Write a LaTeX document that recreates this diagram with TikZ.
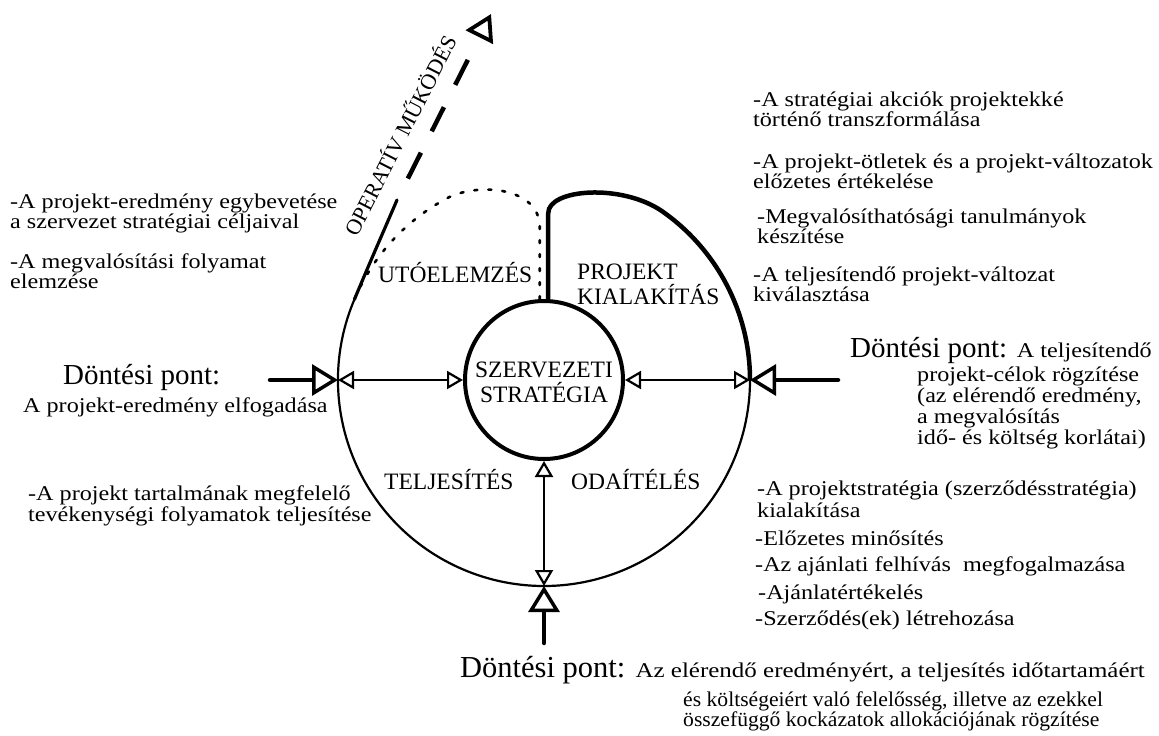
\documentclass[tikz,border=0pt]{standalone}
\usepackage{fontspec}
\setmainfont{Liberation Serif}
\newfontfamily\bodyf[FakeStretch=1.15]{Liberation Serif}
\newfontfamily\bodyw[FakeStretch=1.19]{Liberation Serif}
\newfontfamily\bodyn[FakeStretch=1.03]{Liberation Serif}
\newcommand\bfnt{\bodyf\fontsize{21}{22}\selectfont}
\newcommand\bwfnt{\bodyw\fontsize{21}{22}\selectfont}
\usetikzlibrary{arrows.meta,calc}
\tikzset{
  body/.style={font=\bfnt, inner sep=0pt, anchor=base west},
  bodyb/.style={font=\bodyn\fontsize{21}{22}\selectfont, inner sep=0pt, anchor=base west},
  big/.style={font=\fontsize{29}{30}\selectfont, inner sep=0pt, anchor=base west},
  lab/.style={font=\fontsize{23.5}{25}\selectfont, inner sep=0pt, anchor=base west},
  bigtip/.tip={Triangle[open,length=26pt,width=31pt,line width=3.5pt]},
  smalltip/.tip={Triangle[open,length=16pt,width=18pt,line width=2.2pt]},
  feed/.style={line width=4.5pt,line cap=round,-bigtip},
  link/.style={line width=2.2pt,smalltip-smalltip},
  thinarc/.style={line width=2.2pt},
  thickarc/.style={line width=4.5pt,line join=round},
}
\begin{document}
\begin{tikzpicture}[x=1pt,y=1pt]
\useasboundingbox (0,0) rectangle (1159,-736);
\fill[white] (0,0) rectangle (1159,-736);

\coordinate (C) at (544,-380);
\node[circle, draw, line width=4pt, minimum size=158pt, inner sep=0pt] (S) at (C) {};
\coordinate (OL) at ([shift={(180:206pt)}]C);
\coordinate (OR) at ([shift={(0:206pt)}]C);
\coordinate (OB) at ([shift={(270:206pt)}]C);
\coordinate (O1) at ([shift={(157:206pt)}]C);
\coordinate (O2) at (397,-200);
\coordinate (O3) at (491,-14);
\coordinate (LS) at (270,-380);
\coordinate (RS) at (838,-380);
\coordinate (BS) at (544,-643);

% outer circle (thin part)
\draw[thinarc] (O1) arc[start angle=157, end angle=360, radius=206pt];
% thick project shaping boundary
\draw[thickarc] (S.87) -- ++(0,86) .. controls +(0,24) and (621,-183) .. ([shift={(55:206pt)}]C)
  arc[start angle=55, end angle=0, radius=206pt];
% dotted post-evaluation boundary
\draw[line width=2.6pt, line cap=round, dash pattern=on 3pt off 11pt]
  (S.93) -- ++(0,72) .. controls +(0,40) and (478,-182) .. ([shift={(118:206pt)}]C)
  arc[start angle=118, end angle=157, radius=206pt];
% operative operation
\draw[line width=3.2pt, line cap=round] (O1) .. controls (370,-262) and (385,-228) .. (O2);
\draw[line width=4.5pt, dash pattern=on 0pt off 24pt on 29pt off 24pt on 27pt off 25pt on 28pt off 60pt,
  -{Triangle[open,length=26pt,width=30pt,line width=3.8pt]}] (O2) -- (O3);
\node[font=\fontsize{22}{22}\selectfont, rotate=63, inner sep=0pt] (op) at (399,-135) {OPERATÍV MŰKÖDÉS};

% arrows
\draw[feed] (LS) -- (OL);
\draw[link] (OL) -- (S.west);
\draw[feed] (RS) -- (OR);
\draw[link] (S.east) -- (OR);
\draw[feed] (BS) -- (OB);
\draw[link] (S.south) -- (OB);

% labels
\node[lab, anchor=base] (sz1) at (544,-377) {SZERVEZETI};
\node[lab, anchor=base] (sz2) at (544,-402) {STRATÉGIA};
\node[lab] (ut) at (378,-282) {UTÓELEMZÉS};
\node[lab] (pr1) at (577,-279) {PROJEKT};
\node[lab] (pr2) at (577,-304) {KIALAKÍTÁS};
\node[lab] (te) at (384,-489) {TELJESÍTÉS};
\node[lab] (od) at (571,-489) {ODAÍTÉLÉS};

% top right
\node[body] (t1) at (753,-106) {-A stratégiai akciók projektekké};
\node[body] (t2) at (753,-126) {történő transzformálása};
\node[body] (t3) at (753,-168) {-A projekt-ötletek és a projekt-változatok};
\node[body] (t4) at (753,-188) {előzetes értékelése};
\node[body] (t5) at (757,-223) {-Megvalósíthatósági tanulmányok};
\node[body] (t6) at (757,-243) {készítése};
\node[body] (t7) at (753,-281) {-A teljesítendő projekt-változat};
\node[body] (t8) at (753,-301) {kiválasztása};

% left
\node[body] (l1) at (10,-208) {-A projekt-eredmény egybevetése};
\node[body] (l2) at (10,-228) {a szervezet stratégiai céljaival};
\node[body] (l3) at (10,-268) {-A megvalósítási folyamat};
\node[body] (l4) at (10,-288) {elemzése};
\node[big] (ld) at (63,-384) {Döntési pont:};
\node[body] (l5) at (23,-412) {A projekt-eredmény elfogadása};
\node[body] (l6) at (28,-500) {-A projekt tartalmának megfelelő};
\node[body] (l7) at (28,-521) {tevékenységi folyamatok teljesítése};

% right
\node[big] (rd) at (850,-357) {Döntési pont: {\bfnt A teljesítendő}};
\node[body] (r1) at (917,-381) {projekt-célok rögzítése};
\node[body] (r2) at (917,-402) {(az elérendő eredmény,};
\node[body] (r3) at (917,-423) {a megvalósítás};
\node[body] (r4) at (917,-444) {idő- és költség korlátai)};
\node[body] (r5) at (757,-495) {-A projektstratégia (szerződésstratégia)};
\node[body] (r6) at (757,-517) {kialakítása};
\node[body] (r7) at (755,-545) {-Előzetes minősítés};
\node[body] (r8) at (755,-571) {-Az ajánlati felhívás\ \ megfogalmazása};
\node[body] (r9) at (758,-599) {-Ajánlatértékelés};
\node[body] (r10) at (755,-625) {-Szerződés(ek) létrehozása};

% bottom
\node[big, font=\fontsize{30.5}{31}\selectfont] (bd) at (460,-677) {Döntési pont: {\bwfnt Az elérendő eredményért, a teljesítés időtartamáért}};
\node[bodyb] (b1) at (683,-706) {és költségeiért való felelősség, illetve az ezekkel};
\node[bodyb] (b2) at (683,-726) {összefüggő kockázatok allokációjának rögzítése};
\end{tikzpicture}
\end{document}
